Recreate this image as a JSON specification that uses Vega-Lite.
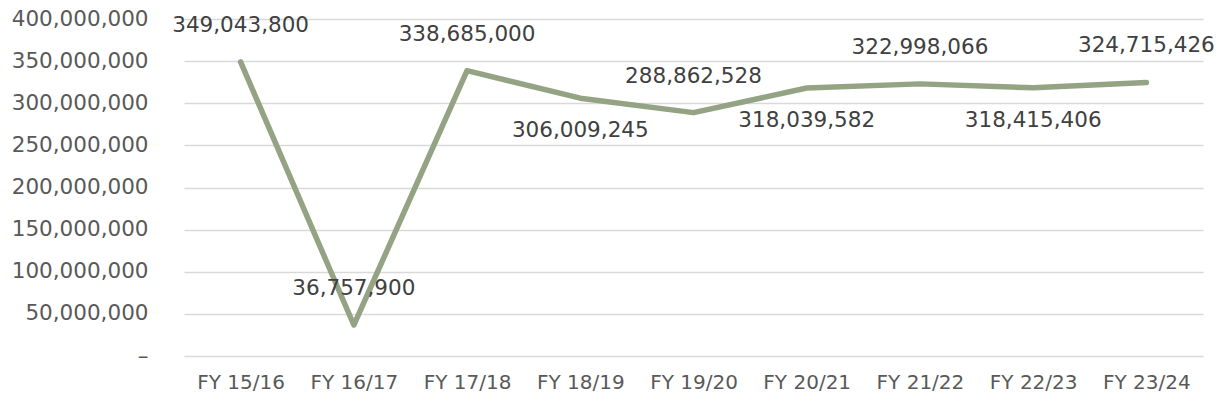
{
  "$schema": "https://vega.github.io/schema/vega-lite/v6.json",
  "autosize": "none",
  "width": 1019,
  "height": 337,
  "padding": {"left": 184, "top": 19, "right": 22, "bottom": 54},
  "background": "white",
  "config": {
    "view": {"stroke": null},
    "font": "DejaVu Sans",
    "axis": {"labelFont": "DejaVu Sans", "labelColor": "#595959", "labelFontSize": 20}
  },
  "data": {
    "values": [
      {"year": "FY 15/16", "value": 349043800},
      {"year": "FY 16/17", "value": 36757900},
      {"year": "FY 17/18", "value": 338685000},
      {"year": "FY 18/19", "value": 306009245},
      {"year": "FY 19/20", "value": 288862528},
      {"year": "FY 20/21", "value": 318039582},
      {"year": "FY 21/22", "value": 322998066},
      {"year": "FY 22/23", "value": 318415406},
      {"year": "FY 23/24", "value": 324715426}
    ]
  },
  "encoding": {
    "x": {
      "field": "year", "type": "nominal", "sort": null,
      "scale": {"paddingInner": 0, "paddingOuter": 0},
      "axis": {"title": null, "labelAngle": 0, "ticks": false, "domain": false, "labelPadding": 16, "grid": false}
    },
    "y": {
      "field": "value", "type": "quantitative",
      "scale": {"domain": [0, 400000000], "nice": false},
      "axis": {
        "title": null, "values": [0, 50000000, 100000000, 150000000, 200000000, 250000000, 300000000, 350000000, 400000000],
        "ticks": false, "domain": false, "labelPadding": 36, "labelFontSize": 21.5,
        "labelExpr": "datum.value == 0 ? '–     ' : format(datum.value, ',')",
        "gridColor": "#d9d9d9", "gridWidth": 1.3
      }
    }
  },
  "layer": [
    {
      "mark": {"type": "line", "color": "#93A383", "strokeWidth": 5.5, "strokeCap": "round", "strokeJoin": "round"}
    },
    {
      "transform": [{"filter": {"field": "year", "oneOf": ["FY 15/16", "FY 16/17", "FY 17/18", "FY 19/20", "FY 21/22", "FY 23/24"]}}],
      "mark": {"type": "text", "dy": -36, "fontSize": 21.5, "color": "#404040", "font": "DejaVu Sans"},
      "encoding": {"text": {"field": "value", "type": "quantitative", "format": ","}}
    },
    {
      "transform": [{"filter": {"field": "year", "oneOf": ["FY 18/19", "FY 20/21", "FY 22/23"]}}],
      "mark": {"type": "text", "dy": 33, "fontSize": 21.5, "color": "#404040", "font": "DejaVu Sans"},
      "encoding": {"text": {"field": "value", "type": "quantitative", "format": ","}}
    }
  ]
}
